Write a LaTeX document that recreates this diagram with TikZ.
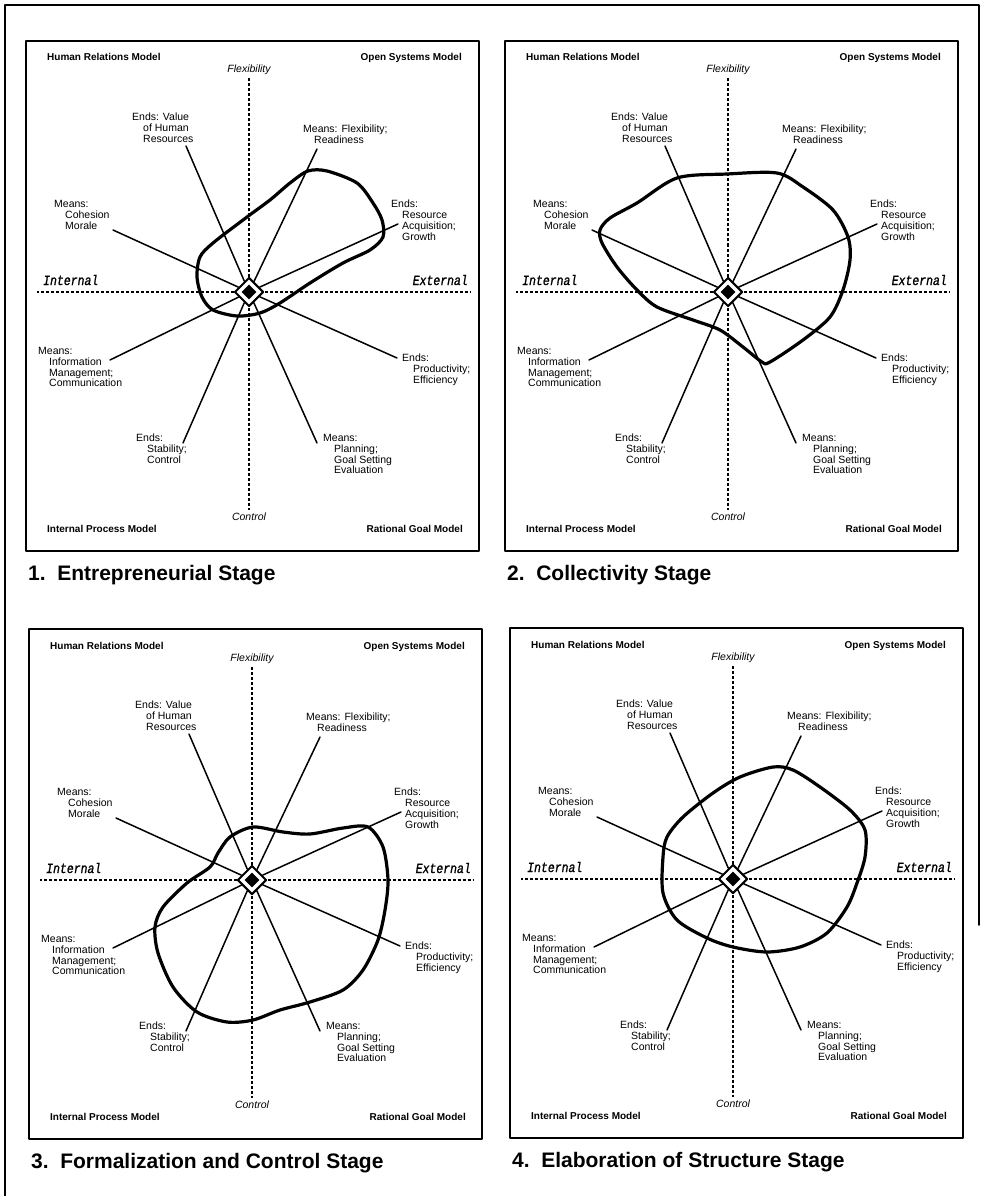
\documentclass[tikz,border=0pt]{standalone}
\usepackage{fontspec}
\setmainfont{Liberation Sans}
\newfontfamily\axisfont{Liberation Mono}[FakeStretch=0.82,FakeBold=1.2]
\usetikzlibrary{shapes.geometric}
\newcommand{\lblindent}{\hspace*{11pt}}
\begin{document}
\begin{tikzpicture}[x=1pt,y=-1pt,line join=round,line cap=round,
	frame/.style={line width=1.8pt},
	spoke/.style={line width=1.5pt},
	axis/.style={line width=1.4pt,dash pattern=on 3pt off 2pt,line cap=butt},
	blob/.style={line width=3.2pt},
	diam/.style={diamond,draw,line width=2pt,fill=white,minimum width=29pt,minimum height=29pt,inner sep=0pt},
	dot/.style={diamond,fill=black,minimum width=15pt,minimum height=15pt,inner sep=0pt},
	lbl/.style={font=\fontsize{10.5}{10.8}\selectfont,align=left,inner sep=0pt,anchor=north west},
	model/.style={font=\fontsize{10}{12}\selectfont\bfseries,inner sep=0pt},
	axlbl/.style={font=\fontsize{10.5}{12}\selectfont\itshape,inner sep=2pt,anchor=base},
	side/.style={font=\axisfont\fontsize{14}{16}\selectfont\itshape,inner sep=0pt},
	stage/.style={font=\fontsize{21}{24}\selectfont\bfseries,inner sep=0pt,anchor=base west}]
	
	\useasboundingbox (0,0) rectangle (982,1196);
	\draw[frame] (5,1196) -- (5,5) -- (979,5) -- (979,925); % khung ngoai
	
	\foreach \cx/\cy/\p/\n/\ttl in {249/292/a/1/{Entrepreneurial Stage},728/292/b/2/{Collectivity Stage},252/880/c/3/{Formalization and Control Stage},733/879/d/4/{Elaboration of Structure Stage}}{
		\draw[frame] (\cx-223,\cy-251) rectangle (\cx+230,\cy+259);
		\node[diam] (\p-ctr) at (\cx,\cy) {};
		\node[dot] (\p-dot) at (\p-ctr) {};
		% hai truc
		\node[axlbl] (\p-flex) at (\cx,\cy-219) {Flexibility};
		\node[axlbl] (\p-ctrl) at (\cx,\cy+228) {Control};
		\node[side,anchor=base west] (\p-int) at (\cx-206,\cy-7) {Internal};
		\node[side,anchor=base east] (\p-ext) at (\cx+219,\cy-7) {External};
		\coordinate (\p-w) at (\cx-212,\cy);
		\coordinate (\p-e) at (\cx+221,\cy);
		\draw[axis] (\p-ctr) -- (\p-flex) (\p-ctr) -- (\p-ctrl) (\p-ctr) -- (\p-w) (\p-ctr) -- (\p-e);
		% bon mo hinh
		\node[model,anchor=base west] (\p-hrm) at (\cx-202,\cy-231) {Human Relations Model};
		\node[model,anchor=base east] (\p-osm) at (\cx+213,\cy-231) {Open Systems Model};
		\node[model,anchor=base west] (\p-ipm) at (\cx-202,\cy+240) {Internal Process Model};
		\node[model,anchor=base east] (\p-rgm) at (\cx+214,\cy+240) {Rational Goal Model};
		% nhan cac tia
		\node[lbl] (\p-hr) at (\cx-117,\cy-179) {Ends: Value\\\lblindent of Human\\\lblindent Resources};
		\node[lbl] (\p-fr) at (\cx+54,\cy-167) {Means: Flexibility;\\\lblindent Readiness};
		\node[lbl] (\p-cm) at (\cx-195,\cy-92) {Means:\\\lblindent Cohesion\\\lblindent Morale};
		\node[lbl] (\p-ra) at (\cx+142,\cy-92) {Ends:\\\lblindent Resource\\\lblindent Acquisition;\\\lblindent Growth};
		\node[lbl] (\p-im) at (\cx-211,\cy+55) {Means:\\\lblindent Information\\\lblindent Management;\\\lblindent Communication};
		\node[lbl] (\p-pe) at (\cx+153,\cy+62) {Ends:\\\lblindent Productivity;\\\lblindent Efficiency};
		\node[lbl] (\p-sc) at (\cx-113,\cy+142) {Ends:\\\lblindent Stability;\\\lblindent Control};
		\node[lbl] (\p-pg) at (\cx+74,\cy+142) {Means:\\\lblindent Planning;\\\lblindent Goal Setting\\\lblindent Evaluation};
		\foreach \lb/\dx/\dy in {hr/-63/-146,fr/68/-143,cm/-136/-62,ra/149/-68,im/-139/68,pe/148/66,sc/-66/151,pg/68/151}{
			\coordinate (\p-\lb-end) at (\cx+\dx,\cy+\dy);
			\draw[spoke] (\p-ctr) -- (\p-\lb-end);
		}
		\node[stage] (\p-ttl) at (\cx-221,\cy+288) {\n.\hspace{0.55em}\ttl};
	}
	
	% duong cong tung giai doan
	\draw[blob,shift={(249,292)}] plot[smooth cycle] coordinates {(59,-121) (78,-121) (108,-109) (124,-89) (133,-72) (134,-55) (121,-42) (94,-29) (61,-9) (31,11) (11,21) (-12,24) (-36,18) (-47,5) (-52,-15) (-49,-35) (-36,-49) (-2,-75) (21,-92) (41,-109)};
	\draw[blob,shift={(728,292)}] plot[smooth cycle] coordinates {(-128,-62) (-118,-74) (-91,-89) (-51,-114) (-1,-118) (49,-119) (75,-105) (105,-82) (120,-55) (122,-32) (115,-2) (102,25) (75,48) (42,70) (34,70) (15,55) (-8,38) (-35,28) (-71,15) (-91,-2) (-111,-25) (-126,-49)};
	\draw[blob,shift={(252,880)}] plot[smooth cycle] coordinates {(1,-53) (31,-48) (58,-46) (91,-52) (116,-53) (131,-33) (136,0) (133,30) (126,60) (111,90) (91,110) (58,122) (28,130) (1,140) (-25,142) (-55,132) (-79,107) (-94,73) (-97,47) (-89,27) (-65,3) (-42,-13) (-34,-27) (-22,-43)};
	\draw[blob,shift={(733,879)}] plot[smooth cycle] coordinates {(40,-112) (60,-109) (87,-92) (117,-69) (132,-49) (132,-22) (124,4) (114,28) (94,54) (67,68) (34,73) (0,68) (-26,59) (-56,41) (-70,14) (-70,-22) (-66,-42) (-50,-62) (-20,-86) (7,-102)};
\end{tikzpicture}
\end{document}
